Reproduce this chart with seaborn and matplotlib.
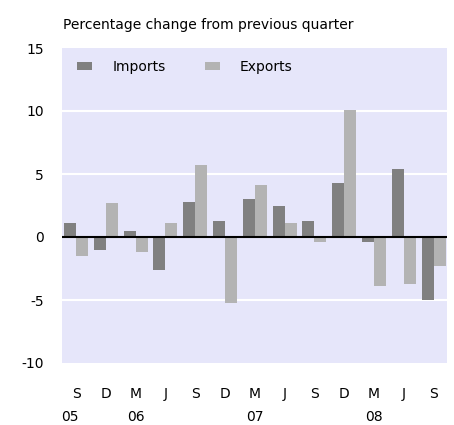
import matplotlib
matplotlib.use("Agg")
import matplotlib.pyplot as plt
import seaborn as sns
import pandas as pd

quarters = ["S05", "D05", "M06", "J06", "S06", "D06", "M07", "J07", "S07", "D07", "M08", "J08", "S08"]
tick_labels = ["S", "D", "M", "J", "S", "D", "M", "J", "S", "D", "M", "J", "S"]
year_labels = ["05", "06", "07", "08"]
year_positions = [-0.22, 2, 6, 10]
imports = [1.1, -1.0, 0.5, -2.6, 2.8, 1.3, 3.0, 2.5, 1.3, 4.3, -0.4, 5.4, -5.0]
exports = [-1.5, 2.7, -1.2, 1.1, 5.7, -5.2, 4.1, 1.1, -0.4, 10.1, -3.9, -3.7, -2.3]
series = ["Imports", "Exports"]
y_ticks = [-10, -5, 0, 5, 10, 15]
title = "Percentage change from previous quarter"

df = pd.DataFrame({
    "quarter": quarters * 2,
    "value": imports + exports,
    "series": [series[0]] * len(quarters) + [series[1]] * len(quarters),
})

sns.set_theme(style="white")
plt.rcParams["font.family"] = ["DejaVu Sans"]
plt.rcParams["text.color"] = "black"
plt.rcParams["xtick.color"] = "black"
plt.rcParams["ytick.color"] = "black"
plt.rcParams["xtick.labelcolor"] = "black"
plt.rcParams["ytick.labelcolor"] = "black"
FS = 10

fig = plt.figure(figsize=(4.54, 4.25), dpi=100)
ax = fig.add_axes([62 / 454, 1 - 363 / 425, (447 - 62) / 454, (363 - 48) / 425])
ax.set_facecolor("#E6E6FA")

sns.barplot(data=df, x="quarter", y="value", hue="series", order=quarters,
            hue_order=series, palette=["#808080", "#B3B3B3"], width=0.8,
            saturation=1, linewidth=0, ax=ax, zorder=3)

ax.set_ylim(-10, 15)
ax.set_xlim(-0.47, 12.45)
ax.set_yticks(y_ticks)
ax.set_yticklabels([str(t) for t in y_ticks], fontsize=FS, color="black")
ax.set_xticks(range(len(quarters)))
ax.set_xticklabels(tick_labels, fontsize=FS, color="black")
ax.tick_params(axis="x", length=0, pad=17)
ax.tick_params(axis="y", length=0, pad=13)
for t in [-5, 5, 10]:
    ax.axhline(t, color="white", lw=1.5, zorder=1)
ax.axhline(0, color="black", lw=1.5, zorder=4)
for s in ax.spines.values():
    s.set_visible(False)
ax.set_xlabel("")
ax.set_ylabel("")

# year labels beneath the quarter letters
ytrans = ax.get_xaxis_transform()
for pos, lab in zip(year_positions, year_labels):
    ax.text(pos, -(417 - 363) / 315, lab, transform=ytrans, fontsize=FS,
            ha="center", va="center", clip_on=False, color="black")

leg = ax.legend(loc="center left", ncol=2, frameon=False, fontsize=FS,
                handlelength=1.1, handleheight=0.5, handletextpad=1.45,
                columnspacing=2.8, borderpad=0, borderaxespad=0,
                bbox_to_anchor=(15 / 385, 1 - 19 / 315))
for txt in leg.get_texts():
    txt.set_color("black")

fig.text(63 / 454, 1 - 25 / 425, title, fontsize=FS, ha="left", va="center",
         color="black")

fig.savefig("out.png", dpi=100, facecolor="white")
